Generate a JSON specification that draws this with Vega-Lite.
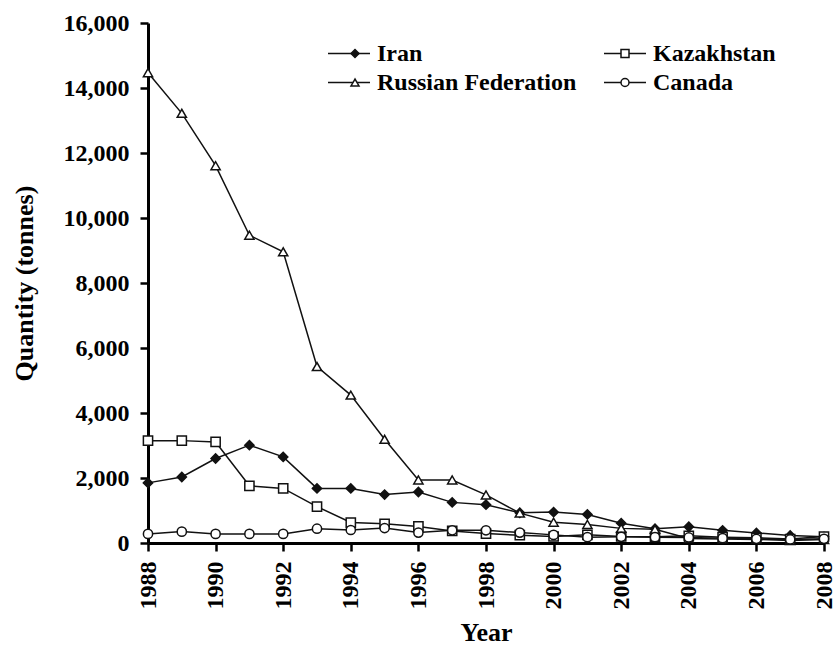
{
  "$schema": "https://vega.github.io/schema/vega-lite/v6.json",
  "width": 676,
  "height": 520,
  "autosize": "none",
  "padding": {"left": 148, "top": 23, "right": 10, "bottom": 109},
  "background": "white",
  "config": {
    "view": {"stroke": null},
    "font": "Liberation Serif",
    "axis": {
      "grid": false,
      "domainColor": "black",
      "domainWidth": 3,
      "tickColor": "black",
      "tickWidth": 2.5,
      "tickSize": 8,
      "labelFont": "Liberation Serif",
      "labelFontWeight": "bold",
      "labelFontSize": 24,
      "labelColor": "black",
      "titleFont": "Liberation Serif",
      "titleFontWeight": "bold",
      "titleFontSize": 26,
      "titleColor": "black"
    },
    "legend": {
      "labelFont": "Liberation Serif",
      "labelFontWeight": "bold",
      "labelFontSize": 24,
      "labelColor": "black",
      "labelLimit": 400
    }
  },
  "data": {
    "values": [
      {"year": 1988, "country": "Iran", "q": 1850},
      {"year": 1989, "country": "Iran", "q": 2030},
      {"year": 1990, "country": "Iran", "q": 2600},
      {"year": 1991, "country": "Iran", "q": 3010},
      {"year": 1992, "country": "Iran", "q": 2650},
      {"year": 1993, "country": "Iran", "q": 1680},
      {"year": 1994, "country": "Iran", "q": 1680},
      {"year": 1995, "country": "Iran", "q": 1490},
      {"year": 1996, "country": "Iran", "q": 1570},
      {"year": 1997, "country": "Iran", "q": 1250},
      {"year": 1998, "country": "Iran", "q": 1180},
      {"year": 1999, "country": "Iran", "q": 930},
      {"year": 2000, "country": "Iran", "q": 950},
      {"year": 2001, "country": "Iran", "q": 880},
      {"year": 2002, "country": "Iran", "q": 610},
      {"year": 2003, "country": "Iran", "q": 440},
      {"year": 2004, "country": "Iran", "q": 500},
      {"year": 2005, "country": "Iran", "q": 390},
      {"year": 2006, "country": "Iran", "q": 310},
      {"year": 2007, "country": "Iran", "q": 230},
      {"year": 2008, "country": "Iran", "q": 190},
      {"year": 1988, "country": "Kazakhstan", "q": 3150},
      {"year": 1989, "country": "Kazakhstan", "q": 3150},
      {"year": 1990, "country": "Kazakhstan", "q": 3110},
      {"year": 1991, "country": "Kazakhstan", "q": 1760},
      {"year": 1992, "country": "Kazakhstan", "q": 1680},
      {"year": 1993, "country": "Kazakhstan", "q": 1120},
      {"year": 1994, "country": "Kazakhstan", "q": 630},
      {"year": 1995, "country": "Kazakhstan", "q": 590},
      {"year": 1996, "country": "Kazakhstan", "q": 510},
      {"year": 1997, "country": "Kazakhstan", "q": 370},
      {"year": 1998, "country": "Kazakhstan", "q": 290},
      {"year": 1999, "country": "Kazakhstan", "q": 240},
      {"year": 2000, "country": "Kazakhstan", "q": 200},
      {"year": 2001, "country": "Kazakhstan", "q": 250},
      {"year": 2002, "country": "Kazakhstan", "q": 200},
      {"year": 2003, "country": "Kazakhstan", "q": 190},
      {"year": 2004, "country": "Kazakhstan", "q": 220},
      {"year": 2005, "country": "Kazakhstan", "q": 180},
      {"year": 2006, "country": "Kazakhstan", "q": 160},
      {"year": 2007, "country": "Kazakhstan", "q": 120},
      {"year": 2008, "country": "Kazakhstan", "q": 200},
      {"year": 1988, "country": "Russian Federation", "q": 14470},
      {"year": 1989, "country": "Russian Federation", "q": 13220},
      {"year": 1990, "country": "Russian Federation", "q": 11610},
      {"year": 1991, "country": "Russian Federation", "q": 9470},
      {"year": 1992, "country": "Russian Federation", "q": 8960},
      {"year": 1993, "country": "Russian Federation", "q": 5430},
      {"year": 1994, "country": "Russian Federation", "q": 4550},
      {"year": 1995, "country": "Russian Federation", "q": 3190},
      {"year": 1996, "country": "Russian Federation", "q": 1940},
      {"year": 1997, "country": "Russian Federation", "q": 1940},
      {"year": 1998, "country": "Russian Federation", "q": 1480},
      {"year": 1999, "country": "Russian Federation", "q": 920},
      {"year": 2000, "country": "Russian Federation", "q": 640},
      {"year": 2001, "country": "Russian Federation", "q": 570},
      {"year": 2002, "country": "Russian Federation", "q": 450},
      {"year": 2003, "country": "Russian Federation", "q": 420},
      {"year": 2004, "country": "Russian Federation", "q": 140},
      {"year": 2005, "country": "Russian Federation", "q": 120},
      {"year": 2006, "country": "Russian Federation", "q": 110},
      {"year": 2007, "country": "Russian Federation", "q": 80},
      {"year": 2008, "country": "Russian Federation", "q": 110},
      {"year": 1988, "country": "Canada", "q": 280},
      {"year": 1989, "country": "Canada", "q": 350},
      {"year": 1990, "country": "Canada", "q": 280},
      {"year": 1991, "country": "Canada", "q": 280},
      {"year": 1992, "country": "Canada", "q": 280},
      {"year": 1993, "country": "Canada", "q": 440},
      {"year": 1994, "country": "Canada", "q": 400},
      {"year": 1995, "country": "Canada", "q": 460},
      {"year": 1996, "country": "Canada", "q": 320},
      {"year": 1997, "country": "Canada", "q": 390},
      {"year": 1998, "country": "Canada", "q": 390},
      {"year": 1999, "country": "Canada", "q": 320},
      {"year": 2000, "country": "Canada", "q": 250},
      {"year": 2001, "country": "Canada", "q": 180},
      {"year": 2002, "country": "Canada", "q": 190},
      {"year": 2003, "country": "Canada", "q": 180},
      {"year": 2004, "country": "Canada", "q": 170},
      {"year": 2005, "country": "Canada", "q": 150},
      {"year": 2006, "country": "Canada", "q": 130},
      {"year": 2007, "country": "Canada", "q": 110},
      {"year": 2008, "country": "Canada", "q": 130}
    ]
  },
  "encoding": {
    "x": {
      "field": "year",
      "type": "quantitative",
      "scale": {"domain": [1988, 2008], "nice": false, "zero": false},
      "axis": {
        "title": "Year",
        "values": [1988, 1990, 1992, 1994, 1996, 1998, 2000, 2002, 2004, 2006, 2008],
        "format": "d",
        "labelAngle": 270,
        "labelPadding": 10,
        "titlePadding": 10
      }
    },
    "y": {
      "field": "q",
      "type": "quantitative",
      "scale": {"domain": [0, 16000], "nice": false},
      "axis": {
        "title": "Quantity (tonnes)",
        "values": [0, 2000, 4000, 6000, 8000, 10000, 12000, 14000, 16000],
        "format": ",d",
        "labelPadding": 11,
        "titlePadding": 26
      }
    }
  },
  "layer": [
    {
      "mark": {"type": "line", "strokeWidth": 1.5},
      "encoding": {
        "stroke": {
          "field": "country",
          "type": "nominal",
          "sort": ["Iran", "Kazakhstan", "Russian Federation", "Canada"],
          "scale": {"range": ["#111", "#111", "#111", "#111"]},
          "legend": {
            "title": null,
            "orient": "none",
            "direction": "horizontal",
            "legendX": 179,
            "legendY": 16,
            "columns": 2,
            "columnPadding": 26,
            "rowPadding": 0,
            "padding": 0,
            "clipHeight": 29,
            "symbolType": "stroke",
            "symbolSize": 1764,
            "symbolStrokeWidth": 1.5,
            "labelOffset": 6
          }
        }
      }
    },
    {
      "mark": {"type": "point", "filled": false, "stroke": "#111", "strokeWidth": 1.5, "size": 85, "opacity": 1},
      "encoding": {
        "shape": {
          "field": "country",
          "type": "nominal",
          "scale": {
            "domain": ["Iran", "Kazakhstan", "Russian Federation", "Canada"],
            "range": ["diamond", "square", "triangle-up", "circle"]
          },
          "legend": {
            "title": null,
            "orient": "none",
            "direction": "horizontal",
            "legendX": 195,
            "legendY": 16,
            "columns": 2,
            "columnPadding": 246,
            "rowPadding": 0,
            "padding": 0,
            "clipHeight": 29,
            "symbolSize": 64,
            "symbolStrokeWidth": 1.5,
            "labelOffset": 0,
            "labelExpr": "''"
          }
        },
        "fill": {
          "field": "country",
          "type": "nominal",
          "scale": {
            "domain": ["Iran", "Kazakhstan", "Russian Federation", "Canada"],
            "range": ["#111", "white", "white", "white"]
          },
          "legend": null
        }
      }
    }
  ]
}
